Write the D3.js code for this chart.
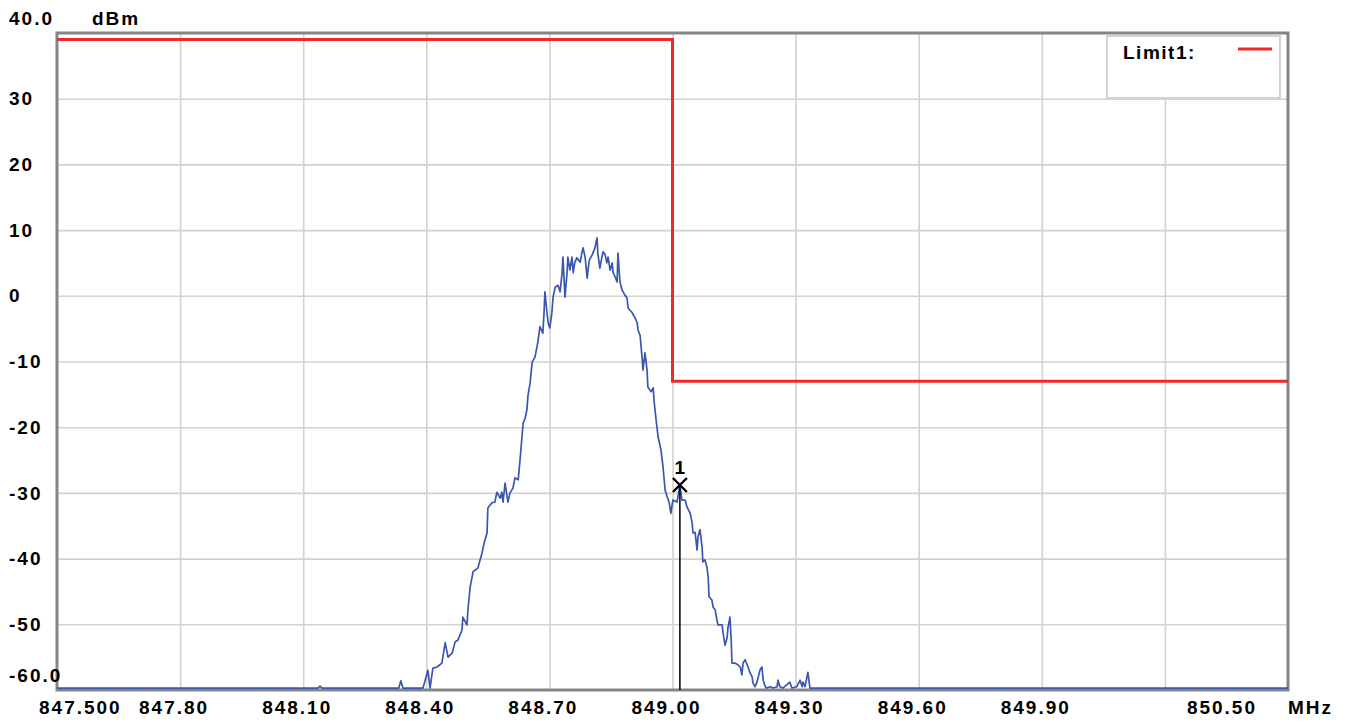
<!DOCTYPE html>
<html lang="en">
<head>
<meta charset="UTF-8">
<title>Spectrum - band edge</title>
<script src="https://d3js.org/d3.v7.min.js"></script>
<style>
html, body { margin: 0; padding: 0; background: white; }
.lbl {
  font-family: 'Liberation Sans', Arial, sans-serif;
  font-weight: bold;
  font-size: 19px;
  letter-spacing: 2px;
  fill: #000;
}
</style>
</head>
<body>
<div id="chart"></div>
<script>

// --------------------------------------
// Data
// --------------------------------------

const xTicks = [847.5, 847.8, 848.1, 848.4, 848.7, 849.0, 849.3, 849.6, 849.9, 850.5];
const xTickLabels = ["847.500", "847.80", "848.10", "848.40", "848.70", "849.00", "849.30", "849.60", "849.90", "850.50"];
const xGrid = [847.8, 848.1, 848.4, 848.7, 849.0, 849.3, 849.6, 849.9, 850.2];

const yTicks = [40, 30, 20, 10, 0, -10, -20, -30, -40, -50, -60];
const yTickLabels = ["40.0", "30", "20", "10", "0", "-10", "-20", "-30", "-40", "-50", "-60.0"];
const yGrid = [30, 20, 10, 0, -10, -20, -30, -40, -50];

// limit line: MHz, dBm
const limitFreq = [847.5, 849.0, 849.0, 850.5];
const limitLevel = [39.0, 39.0, -13.0, -13.0];

// marker 1
const markerFreq = 849.018;
const markerLevel = -28.8;

// trace: [MHz, dBm]
const trace = [
  [847.500,-59.7],
  [848.136,-59.7],[848.141,-59.4],[848.146,-59.7],
  [848.333,-59.7],[848.338,-58.6],[848.343,-59.7],
  [848.392,-59.7],[848.404,-57.0],[848.409,-59.7],[848.416,-56.7],[848.426,-56.5],[848.438,-55.9],
  [848.446,-52.8],[848.453,-55.0],[848.463,-54.4],[848.470,-52.7],[848.477,-52.4],[848.487,-50.9],
  [848.489,-48.9],[848.499,-50.1],[848.502,-47.4],[848.507,-44.3],[848.514,-42.0],[848.526,-41.4],
  [848.531,-40.2],[848.536,-39.1],[848.541,-37.6],[848.548,-36.1],[848.550,-32.3],[848.560,-31.5],
  [848.567,-31.4],[848.572,-29.9],[848.580,-30.8],[848.584,-29.9],[848.587,-31.4],[848.592,-28.5],
  [848.599,-31.4],[848.604,-30.0],[848.611,-29.3],[848.616,-27.7],[848.624,-28.0],[848.628,-25.3],
  [848.633,-21.6],[848.636,-19.4],[848.641,-18.6],[848.645,-17.4],[848.648,-15.1],[848.653,-13.3],
  [848.658,-10.1],[848.665,-9.3],[848.672,-7.0],[848.677,-4.7],[848.684,-5.7],[848.687,-2.5],
  [848.689,0.6],[848.694,-2.5],[848.697,-4.1],[848.701,-4.9],[848.706,-2.6],[848.709,-0.2],
  [848.714,1.3],[848.721,1.6],[848.726,0.6],[848.731,3.5],[848.733,5.9],[848.738,-0.2],
  [848.743,3.5],[848.745,5.9],[848.750,3.9],[848.755,5.9],[848.758,3.5],[848.762,5.1],
  [848.767,5.8],[848.775,5.1],[848.779,6.5],[848.782,7.3],[848.787,5.9],[848.792,2.7],
  [848.797,5.4],[848.804,6.2],[848.811,7.3],[848.816,8.8],[848.818,6.5],[848.823,4.2],
  [848.828,5.9],[848.831,6.7],[848.836,6.2],[848.840,5.0],[848.843,5.9],[848.848,3.9],
  [848.853,5.0],[848.855,3.6],[848.860,2.9],[848.865,2.1],[848.867,6.5],[848.872,2.1],
  [848.877,0.9],[848.884,0.1],[848.889,-0.3],[848.892,-1.9],[848.901,-2.5],[848.909,-3.4],
  [848.914,-4.1],[848.916,-5.2],[848.921,-6.0],[848.926,-9.5],[848.928,-11.3],[848.933,-8.7],
  [848.938,-11.3],[848.940,-13.9],[848.948,-14.6],[848.953,-14.0],[848.955,-15.9],[848.960,-18.9],
  [848.965,-21.5],[848.972,-23.5],[848.977,-26.1],[848.982,-29.6],[848.987,-30.6],[848.992,-31.5],
  [848.996,-33.1],[849.001,-31.1],[849.011,-31.4],[849.018,-28.8],[849.023,-31.1],[849.031,-31.1],
  [849.035,-32.1],[849.043,-33.1],[849.048,-34.6],[849.050,-36.1],[849.055,-36.0],[849.060,-38.7],
  [849.062,-36.7],[849.067,-35.6],[849.072,-38.2],[849.074,-40.5],[849.079,-40.2],[849.084,-41.3],
  [849.087,-42.8],[849.089,-45.8],[849.096,-46.3],[849.099,-47.4],[849.104,-47.8],[849.108,-49.3],
  [849.111,-50.1],[849.121,-50.1],[849.123,-51.2],[849.128,-53.2],[849.133,-52.1],[849.135,-50.6],
  [849.140,-48.9],[849.143,-52.4],[849.145,-55.9],[849.152,-55.9],[849.160,-56.2],[849.165,-56.5],
  [849.169,-57.7],[849.172,-55.9],[849.177,-55.4],[849.182,-56.2],[849.184,-56.5],[849.189,-57.4],
  [849.194,-58.0],[849.196,-58.9],[849.201,-59.5],[849.206,-58.8],[849.213,-57.0],[849.218,-56.5],
  [849.221,-58.5],[849.226,-59.5],[849.230,-59.7],[849.238,-59.5],[849.245,-59.7],[849.255,-59.5],
  [849.257,-58.5],[849.262,-59.5],[849.269,-59.7],[849.286,-58.8],[849.291,-59.7],[849.303,-59.5],
  [849.311,-58.5],[849.316,-59.5],[849.318,-58.8],[849.323,-59.5],[849.330,-57.3],[849.335,-59.7],
  [850.500,-59.7]
];

// --------------------------------------
// Size and scales
// --------------------------------------

const totalWidth = 1353;
const totalHeight = 722;
const plot = {left: 57, top: 33, right: 1288, bottom: 690};

const svg = d3.select("#chart")
  .append("svg")
  .attr("width", totalWidth)
  .attr("height", totalHeight)
  .style("display", "block")
  .style("background", "white");

const x = d3.scaleLinear().domain([847.5, 850.5]).range([plot.left, plot.right]);
const y = d3.scaleLinear().domain([-60, 40]).range([plot.bottom, plot.top]);

// --------------------------------------
// Grid
// --------------------------------------

svg.append("g")
  .attr("transform", `translate(0,${plot.bottom})`)
  .call(d3.axisBottom(x).tickValues(xGrid).tickSize(-(plot.bottom - plot.top)).tickFormat(""))
  .call(g => g.select(".domain").remove())
  .call(g => g.selectAll("line").attr("stroke", "#d6d2ca").attr("stroke-width", 1.6));

svg.append("g")
  .attr("transform", `translate(${plot.left},0)`)
  .call(d3.axisLeft(y).tickValues(yGrid).tickSize(-(plot.right - plot.left)).tickFormat(""))
  .call(g => g.select(".domain").remove())
  .call(g => g.selectAll("line").attr("stroke", "#d6d2ca").attr("stroke-width", 1.6));

// --------------------------------------
// Frame
// --------------------------------------

svg.append("rect")
  .attr("x", plot.left)
  .attr("y", plot.top)
  .attr("width", plot.right - plot.left)
  .attr("height", plot.bottom - plot.top)
  .attr("fill", "none")
  .attr("stroke", "#858585")
  .attr("stroke-width", 3);

// --------------------------------------
// Legend box
// --------------------------------------

const legend = svg.append("g").attr("transform", "translate(1107,36)");
legend.append("rect")
  .attr("width", 173).attr("height", 62)
  .attr("fill", "white")
  .attr("stroke", "#d6d2ca").attr("stroke-width", 2);
legend.append("text")
  .attr("class", "lbl")
  .attr("x", 16).attr("y", 23)
  .style("letter-spacing", "1.5px")
  .text("Limit1:");
legend.append("line")
  .attr("x1", 131).attr("x2", 165)
  .attr("y1", 13).attr("y2", 13)
  .attr("stroke", "#f02828").attr("stroke-width", 3);

// --------------------------------------
// Trace
// --------------------------------------

svg.append("path")
  .datum(trace)
  .attr("fill", "none")
  .attr("stroke", "#3a56b0")
  .attr("stroke-width", 1.7)
  .attr("stroke-linejoin", "round")
  .attr("d", d3.line().x(d => x(d[0])).y(d => y(d[1])));

// --------------------------------------
// Limit line
// --------------------------------------

svg.append("path")
  .datum(d3.zip(limitFreq, limitLevel))
  .attr("fill", "none")
  .attr("stroke", "#f02828")
  .attr("stroke-width", 3)
  .attr("d", d3.line().x(d => x(d[0])).y(d => y(d[1])));

// --------------------------------------
// Marker
// --------------------------------------

const mx = x(markerFreq), my = y(markerLevel);
svg.append("line")
  .attr("x1", mx).attr("x2", mx)
  .attr("y1", my).attr("y2", y(-60))
  .attr("stroke", "#000").attr("stroke-width", 1.5);

svg.append("path")
  .attr("d", `M${mx - 7},${my - 7}L${mx + 7},${my + 7}M${mx - 7},${my + 7}L${mx + 7},${my - 7}`)
  .attr("stroke", "#000").attr("stroke-width", 2.4);

svg.append("text")
  .attr("class", "lbl")
  .attr("x", mx).attr("y", my - 11)
  .attr("text-anchor", "middle")
  .style("letter-spacing", "0px")
  .text("1");

// --------------------------------------
// Axis labels
// --------------------------------------

svg.append("g")
  .selectAll("text")
  .data(yTicks)
  .join("text")
  .attr("class", "lbl")
  .attr("x", 9)
  .attr("y", d => (d === 40 || d === -60) ? y(d) - 15 : y(d))
  .attr("dy", "0.35em")
  .text((d, i) => yTickLabels[i]);

svg.append("text")
  .attr("class", "lbl")
  .attr("x", 92).attr("y", 18)
  .attr("dy", "0.35em")
  .text("dBm");

const last = xTicks.length - 1;
svg.append("g")
  .selectAll("text")
  .data(xTicks)
  .join("text")
  .attr("class", "lbl")
  .attr("x", (d, i) => i === 0 ? x(d) - 18 : i === last ? x(d) - 31 : x(d) - 6)
  .attr("y", 714)
  .attr("text-anchor", (d, i) => i === 0 ? "start" : i === last ? "end" : "middle")
  .text((d, i) => xTickLabels[i]);

svg.append("text")
  .attr("class", "lbl")
  .attr("x", plot.right).attr("y", 714)
  .text("MHz");

</script>
</body>
</html>
